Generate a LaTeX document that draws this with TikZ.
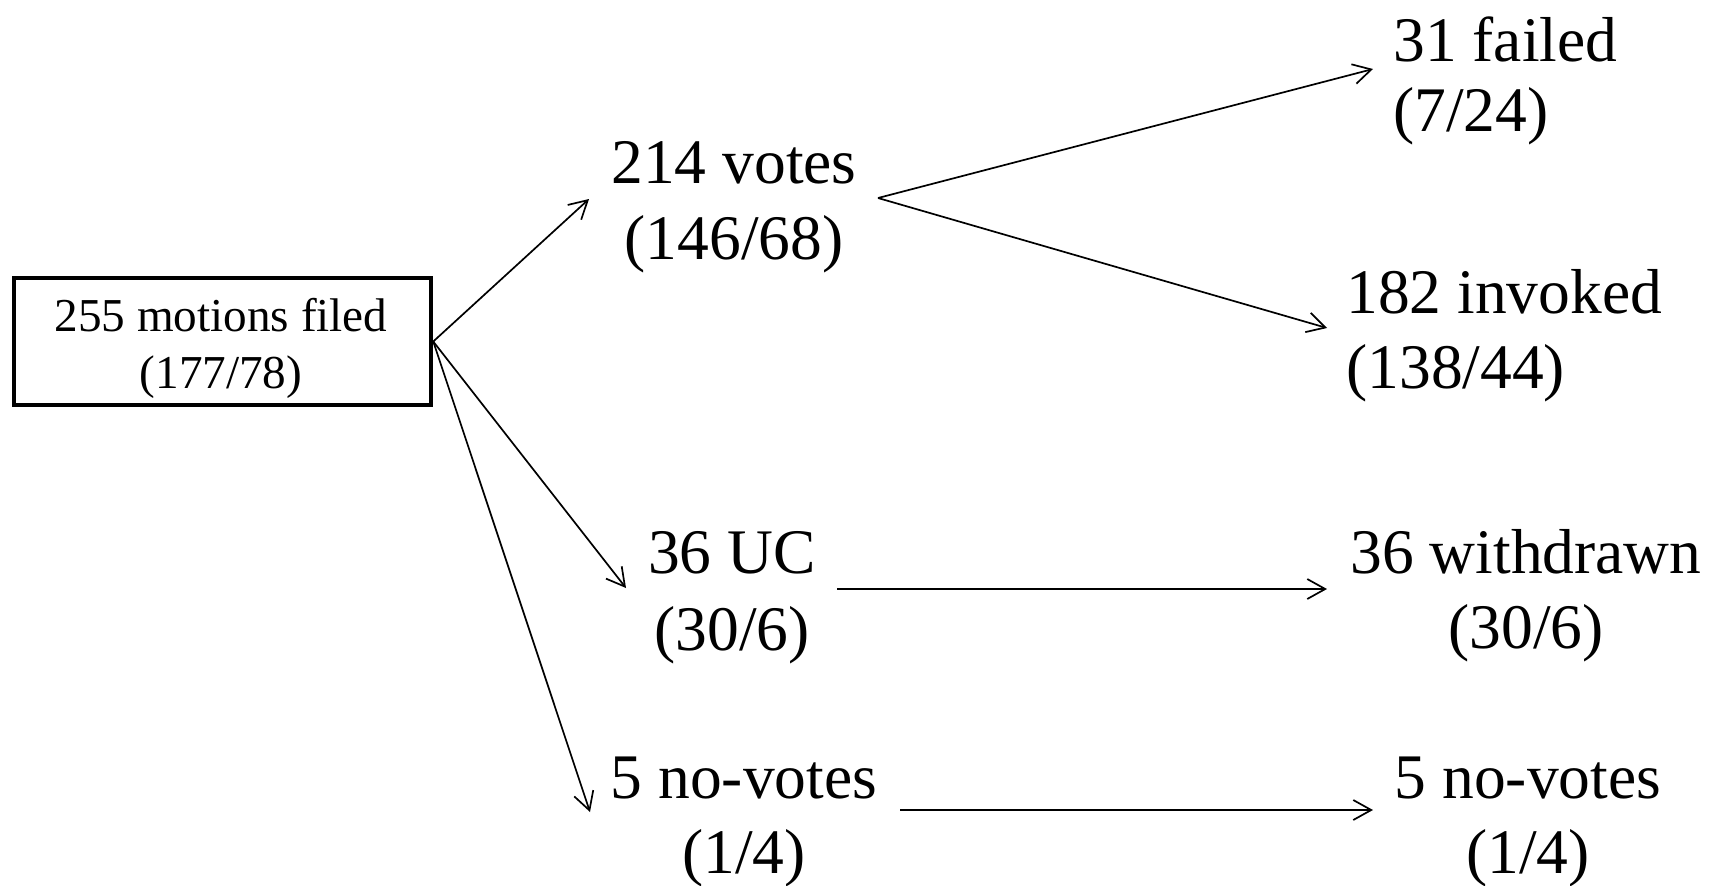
\documentclass[tikz,border=0pt]{standalone}
\usepackage{fontspec}
\setmainfont{Liberation Serif}
\usetikzlibrary{arrows.meta}
\begin{document}
\begin{tikzpicture}[x=0.5pt,y=-0.5pt,
  lbl/.style={inner sep=0pt, font=\fontsize{31.75}{37}\selectfont, anchor=base},
  boxtxt/.style={inner sep=0pt, font=\fontsize{23.6}{28}\selectfont, anchor=base},
  flow/.style={line width=0.85pt, -{Straight Barb[length=9pt,width=10pt]}}]
\useasboundingbox (0,0) rectangle (1719,885);

% starting box
\node[draw, line width=2.25pt, minimum width=208.5pt, minimum height=63.5pt, inner sep=0pt] (filed) at (222.5,341.5) {};
\node[boxtxt] (filedA) at (221,331) {255 motions filed};
\node[boxtxt] (filedB) at (221,388) {(177/78)};

% outcome labels
\node[lbl] (votesA) at (734,183) {214 votes};
\node[lbl] (votesB) at (734,259) {(146/68)};
\node[lbl, anchor=base west] (failA) at (1393,61) {31 failed};
\node[lbl, anchor=base west] (failB) at (1393,131) {(7/24)};
\node[lbl, anchor=base west] (invA) at (1346,313) {182 invoked};
\node[lbl, anchor=base west] (invB) at (1346,388) {(138/44)};
\node[lbl] (ucA) at (732,573) {36 UC};
\node[lbl] (ucB) at (732,650) {(30/6)};
\node[lbl] (wdA) at (1526,573) {36 withdrawn};
\node[lbl] (wdB) at (1526,648) {(30/6)};
\node[lbl] (nvA) at (744,798) {5 no-votes};
\node[lbl] (nvB) at (744,873) {(1/4)};
\node[lbl] (nvtA) at (1528,798) {5 no-votes};
\node[lbl] (nvtB) at (1528,873) {(1/4)};

% arrow end points beside the labels
\coordinate (votesIn) at (589,199);
\coordinate (votesOut) at (878,198);
\coordinate (failIn) at (1373,69);
\coordinate (invIn) at (1327,328);
\coordinate (ucIn) at (626,588);
\coordinate (ucOut) at (837,589);
\coordinate (wdIn) at (1327,589);
\coordinate (nvIn) at (590,812);
\coordinate (nvOut) at (900,810);
\coordinate (nvtIn) at (1373,810);

% connectors
\draw[flow] (filed.east) -- (votesIn);
\draw[flow] (filed.east) -- (ucIn);
\draw[flow] (filed.east) -- (nvIn);
\draw[flow] (votesOut) -- (failIn);
\draw[flow] (votesOut) -- (invIn);
\draw[flow] (ucOut) -- (wdIn);
\draw[flow] (nvOut) -- (nvtIn);
\end{tikzpicture}
\end{document}
